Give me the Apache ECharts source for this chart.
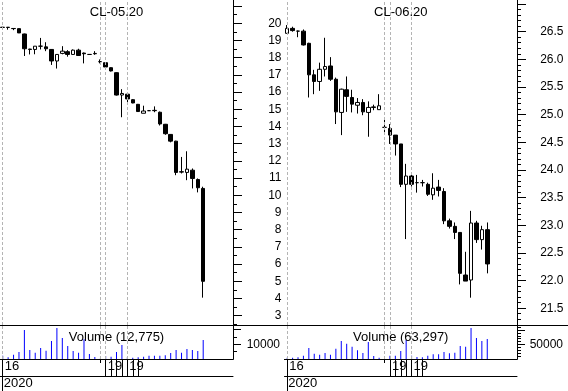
<!DOCTYPE html>
<html><head><meta charset="utf-8">
<script src="https://cdn.jsdelivr.net/npm/echarts@6/dist/echarts.min.js"></script>
<style>html,body{margin:0;padding:0;background:#fff}#c{width:568px;height:391px}</style>
</head><body><div id="c"></div>
<script>
// ---------- categories / tick labels ----------
const slots = ['0','1','2','3','4','5','6','7','8','9','10','11','12','13','14','15','16','17','18','19','20',
  '21','22','23','24','25','26','27','28','29','30','31','32','33','34','35','36','37','38','39','40','41','42'];
const dateLabels = {0: '16', 19: '19', 23: '19'};
const dateTicks = [0, 19, 20, 21, 22, 23, 24, 25];
const dateMinorTicks = [18];
const yearLabels = {0: '2020'};
const dividers = ['0', '18', '19', '23'];

// ---------- CL-05.20 ----------
const mayOpen  = [19.77,19.77,19.70,19.69,19.38,18.50,18.48,18.67,18.63,18.48,17.81,18.25,18.35,18.19,18.44,18.27,18.19,18.23,17.77,17.71,17.42,17.13,15.83,15.88,15.56,15.29,14.77,14.92,14.92,14.83,14.13,13.54,13.15,11.37,11.33,11.46,10.92,10.40];
const mayClose = [19.76,19.76,19.69,19.44,18.52,18.48,18.67,18.67,18.52,17.81,18.19,18.38,18.19,18.44,18.13,18.23,18.19,18.25,17.77,17.46,17.23,15.83,15.92,15.60,15.37,14.87,14.90,14.92,14.94,14.15,13.58,13.15,11.33,11.35,11.52,10.98,10.44,5.00];
const mayLow   = [19.75,19.63,19.60,19.44,18.10,18.19,18.20,18.48,18.38,17.58,17.37,18.20,18.06,18.17,18.10,17.67,18.17,18.17,17.67,17.40,17.20,15.80,14.54,15.40,15.35,14.85,14.77,14.90,14.83,14.06,13.52,13.08,11.17,11.27,10.88,10.40,10.17,4.05];
const mayHigh  = [19.79,19.78,19.72,19.70,19.40,18.52,18.67,19.15,18.90,18.50,18.20,18.67,18.44,18.48,18.52,18.30,18.20,18.38,17.90,17.75,17.44,17.15,16.17,15.94,15.60,15.31,15.21,14.96,15.17,14.87,14.15,13.56,13.17,12.23,12.56,11.56,10.98,10.50];
const mayVolume = [2270,1135,2950,4770,19750,6130,4310,7490,5675,12260,21110,14300,8850,5450,4310,13390,3400,1360,150,2040,1590,4770,9530,1135,910,1135,1590,2270,2270,2270,2500,4090,6130,4310,6810,6130,5450,12940];
const mayPriceLabels = [3,4,5,6,7,8,9,10,11,12,13,14,15,16,17,18,19,20];
const mayVolumeLabels = [10000];

// ---------- CL-06.20 ----------
const junOpen  = [26.47,26.56,26.51,26.51,26.29,25.72,25.60,25.82,25.88,25.64,25.04,25.45,25.31,25.17,25.22,25.04,25.14,25.09,24.77,24.75,24.63,24.47,23.74,23.89,23.77,23.77,23.74,23.55,23.69,23.61,23.08,22.98,22.87,22.10,22.01,23.04,22.74,22.92];
const junClose = [26.56,26.52,26.51,26.26,25.72,25.60,25.82,25.87,25.64,25.05,25.46,25.33,25.19,25.22,25.05,25.13,25.13,25.16,24.77,24.63,24.47,23.74,23.89,23.74,23.77,23.77,23.56,23.67,23.63,23.08,22.98,22.87,22.13,21.99,23.04,22.74,22.92,22.30];
const junLow   = [26.47,26.50,26.40,26.25,25.31,25.37,25.43,25.69,25.61,24.83,24.63,25.05,25.04,25.02,24.99,24.60,25.08,25.09,24.66,24.47,24.26,23.69,22.75,23.70,23.59,23.70,23.53,23.46,23.52,23.02,22.94,22.75,21.93,21.99,21.69,22.68,22.56,22.13];
const junHigh  = [26.62,26.59,26.52,26.54,26.30,25.81,25.94,26.39,26.04,25.67,25.47,25.69,25.45,25.30,25.28,25.24,25.18,25.37,24.95,24.83,24.63,24.47,24.11,23.95,23.91,23.82,23.77,23.94,23.82,23.67,23.12,23.05,22.87,22.52,23.26,23.08,22.99,23.05];
const junVolume = [4600,4600,5750,11500,37950,18400,14950,20700,14950,35650,62100,52900,42550,29900,20700,58650,10350,4600,300,11500,11500,27600,65550,11500,6900,5750,11500,16100,16100,24150,19550,21850,44850,42550,106950,72450,62100,69000];
const junPriceLabels = [21.5,22.0,22.5,23.0,23.5,24.0,24.5,25.0,25.5,26.0,26.5];
const junVolumeLabels = [50000];

const FONT = 'Arial, "Liberation Sans", sans-serif';

function range(a, b, step) {
  const out = [];
  for (let v = a; v <= b + 1e-9; v += step) out.push(Math.round(v * 100) / 100);
  return out;
}

const panels = [
  {
    title: 'CL-05.20', volText: 'Volume (12,775)', left: 0, width: 233,
    open: mayOpen, close: mayClose, low: mayLow, high: mayHigh, vol: mayVolume,
    pMin: 2.46, pMax: 21.355,
    pLabels: mayPriceLabels, pMajor: range(3, 21, 1), pMinor: range(2.5, 20.5, 1),
    pFmt: v => String(v), pMargin: 48.5,
    vMax: 23120, vLabels: mayVolumeLabels, vMajor: [10000, 20000], vMinor: [5000, 15000], vMargin: 47
  },
  {
    title: 'CL-06.20', volText: 'Volume (63,297)', left: 284.5, width: 232.5,
    open: junOpen, close: junClose, low: junLow, high: junHigh, vol: junVolume,
    pMin: 21.196, pMax: 27.073,
    pLabels: junPriceLabels, pMajor: range(21.5, 27, 0.5),
    pMinor: range(21.2, 27.0, 0.1).filter(v => Math.abs(v * 2 - Math.round(v * 2)) > 1e-6),
    pFmt: v => v.toFixed(1), pMargin: 46.5,
    vMax: 117300, vLabels: junVolumeLabels, vMajor: [50000, 100000], vMinor: [10000,20000,30000,40000,60000,70000,80000,90000,110000], vMargin: 46
  }
];

const grid = [], xAxis = [], yAxis = [], extraY = [], series = [], graphic = [];
const black = {color: '#000', width: 1};

function makeMarkLine() {
  return {
    silent: true, symbol: ['none', 'none'], label: {show: false},
    lineStyle: {color: '#b4b4b4', type: [3, 2], width: 1},
    data: dividers.map(d => ({xAxis: d}))
  };
}

panels.forEach(P => {
  const gi = grid.length;
  [[0, 325], [325, 34], [359, 17], [376, 15]].forEach(([t, h]) => {
    grid.push({left: P.left, top: t, width: P.width, height: h});
  });
  const xi = xAxis.length;
  xAxis.push(
    {type: 'category', data: slots, gridIndex: gi, axisLine: {show: false}, axisTick: {show: false}, axisLabel: {show: false}},
    {type: 'category', data: slots, gridIndex: gi + 1, axisLine: {show: true, onZero: false, lineStyle: black},
      axisTick: {show: true, length: 4, alignWithLabel: true, interval: i => dateMinorTicks.includes(i), lineStyle: black},
      axisLabel: {show: false}},
    {type: 'category', data: slots, gridIndex: gi + 2, position: 'top', axisLine: {show: true, onZero: false, lineStyle: black},
      axisTick: {show: true, inside: true, length: 17, alignWithLabel: true,
        interval: i => dateTicks.includes(i), lineStyle: black},
      axisLabel: {show: true, inside: true, margin: 1, interval: i => dateLabels[i] !== undefined,
        formatter: (v, i) => dateLabels[i] || '', align: 'left', padding: [0, 0, 0, 2],
        color: '#000', fontSize: 13, fontFamily: FONT}},
    {type: 'category', data: slots, gridIndex: gi + 3, position: 'top', axisLine: {show: true, onZero: false, lineStyle: black},
      axisTick: {show: true, inside: true, length: 15, alignWithLabel: true,
        interval: i => yearLabels[i] !== undefined, lineStyle: black},
      axisLabel: {show: true, inside: true, margin: 1, interval: i => yearLabels[i] !== undefined,
        formatter: (v, i) => yearLabels[i] || '', align: 'left', padding: [0, 0, 0, 1],
        color: '#000', fontSize: 13, fontFamily: FONT}}
  );
  const yi = yAxis.length;
  yAxis.push(
    {type: 'value', position: 'right', splitLine: {show: false}, gridIndex: gi, min: P.pMin, max: P.pMax,
      axisLine: {show: true, lineStyle: black},
      axisTick: {show: true, length: 9, customValues: P.pMajor, lineStyle: black},
      axisLabel: {show: true, customValues: P.pLabels, formatter: P.pFmt, align: 'right', margin: P.pMargin,
        color: '#000', fontSize: 12, fontFamily: FONT}},
    {type: 'value', position: 'right', splitLine: {show: false}, gridIndex: gi + 1, min: 0, max: P.vMax,
      axisLine: {show: true, lineStyle: black},
      axisTick: {show: true, length: 8, customValues: P.vMajor, lineStyle: black},
      axisLabel: {show: true, customValues: P.vLabels, formatter: v => String(v), align: 'right', margin: P.vMargin,
        color: '#000', fontSize: 12, fontFamily: FONT}},
    {type: 'value', gridIndex: gi + 2, min: 0, max: 1, show: false},
    {type: 'value', gridIndex: gi + 3, min: 0, max: 1, show: false}
  );
  extraY.push(
    {type: 'value', position: 'right', splitLine: {show: false}, gridIndex: gi, min: P.pMin, max: P.pMax,
      axisLine: {show: false}, axisTick: {show: true, length: 4, customValues: P.pMinor, lineStyle: black},
      axisLabel: {show: false}},
    {type: 'value', position: 'right', splitLine: {show: false}, gridIndex: gi + 1, min: 0, max: P.vMax,
      axisLine: {show: false}, axisTick: {show: true, length: 4, customValues: P.vMinor, lineStyle: black},
      axisLabel: {show: false}}
  );
  series.push(
    {
      type: 'candlestick', xAxisIndex: xi, yAxisIndex: yi, barWidth: 4,
      data: P.open.map((o, i) => [o, P.close[i], P.low[i], P.high[i]]),
      itemStyle: {color: '#fff', color0: '#000', borderColor: '#000', borderColor0: '#000', borderWidth: 1},
      markLine: makeMarkLine()
    },
    {
      type: 'bar', xAxisIndex: xi + 1, yAxisIndex: yi + 1, barWidth: 1,
      data: P.vol, itemStyle: {color: '#0000ff'},
      markLine: makeMarkLine()
    }
  );
  const cx = P.left + P.width / 2;
  graphic.push(
    {type: 'text', x: cx, y: 12, z: 10, style: {text: P.title, font: '13px ' + FONT, fill: '#000',
      align: 'center', verticalAlign: 'middle'}},
    {type: 'text', x: cx, y: 337, z: 10, style: {text: P.volText, font: '13px ' + FONT, fill: '#000',
      align: 'center', verticalAlign: 'middle'}}
  );
});

graphic.push({type: 'line', z: 10, shape: {x1: 0, y1: 325.5, x2: 568, y2: 325.5},
  style: {stroke: '#000', lineWidth: 1}});

const chart = echarts.init(document.getElementById('c'), null, {renderer: 'canvas', width: 568, height: 391});
try {
  chart.setOption({animation: false, backgroundColor: '#fff', textStyle: {fontFamily: FONT},
    grid, xAxis, yAxis, series});
} catch (e) { console.error('main', e); }
try { chart.setOption({yAxis: yAxis.concat(extraY)}); } catch (e) { console.error('minor', e); }
try { chart.setOption({graphic}); } catch (e) { console.error('graphic', e); }
</script>
</body></html>
